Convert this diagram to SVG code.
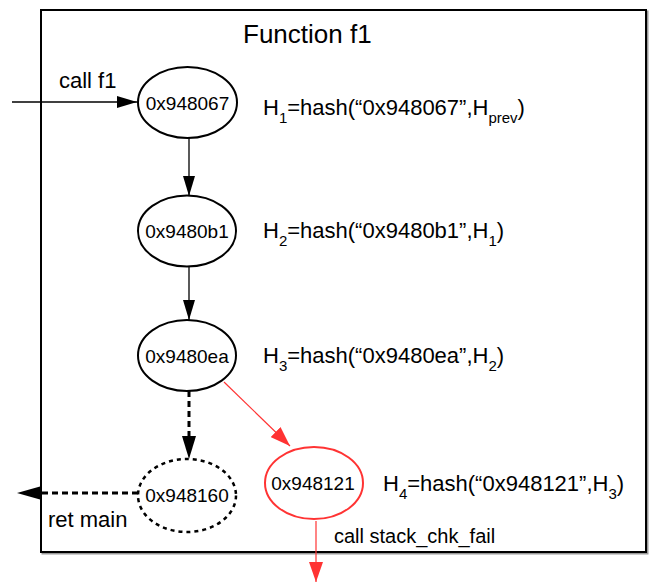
<svg xmlns="http://www.w3.org/2000/svg" width="651" height="582" viewBox="0 0 651 582">
  <defs>
    <style>
      text { font-family: "Liberation Sans", Arial, sans-serif; fill: #000; }
      .node { fill: #fff; stroke: #000; stroke-width: 2; }
      .node-dash { fill: #fff; stroke: #000; stroke-width: 2.5; stroke-dasharray: 4 4; }
      .node-red { fill: #fff; stroke: #f33; stroke-width: 2; }
      .addr { font-size: 19px; text-anchor: middle; }
      .hash { font-size: 22px; }
      .sub { font-size: 15px; }
      .lbl { font-size: 22px; }
      .lbl-small { font-size: 20px; }
      .edge { fill: none; stroke: #000; stroke-width: 1.3; }
      .edge-dash { fill: none; stroke: #000; stroke-width: 3; stroke-dasharray: 6 4; }
      .edge-red { fill: none; stroke: #f33; stroke-width: 1.2; }
    </style>
    <marker id="arrow" viewBox="0 0 20 12" refX="20" refY="6" markerWidth="20" markerHeight="12" markerUnits="userSpaceOnUse" orient="auto">
      <path d="M0,0 L20,6 L0,12 Z" fill="#000"/>
    </marker>
    <marker id="arrow-red" viewBox="0 0 20 14" refX="20" refY="7" markerWidth="20" markerHeight="14" markerUnits="userSpaceOnUse" orient="auto">
      <path d="M0,0 L20,7 L0,14 Z" fill="#f33"/>
    </marker>
  </defs>

  <rect width="651" height="582" fill="#fff"/>

  <!-- function frame with a slight drop shadow -->
  <g id="frame">
    <rect x="42.5" y="11.5" width="605" height="542" fill="none" stroke="#999" stroke-width="2"/>
    <rect x="41" y="10" width="605" height="542" fill="#fff" stroke="#000" stroke-width="2"/>
    <text x="243" y="43" font-size="26">Function f1</text>
  </g>

  <!-- connectors -->
  <g id="connectors">
    <line class="edge" x1="12" y1="102" x2="137" y2="102" marker-end="url(#arrow)"/>
    <text class="lbl" x="59" y="88">call f1</text>
    <line class="edge" x1="189" y1="138" x2="189" y2="196" marker-end="url(#arrow)"/>
    <line class="edge" x1="189" y1="266" x2="189" y2="320" marker-end="url(#arrow)"/>
    <line class="edge-dash" x1="189" y1="391" x2="189" y2="440"/>
    <path d="M182,436 L196,436 L189,459 Z" fill="#000"/>
    <line class="edge-dash" x1="138" y1="493" x2="36" y2="493"/>
    <path d="M40,486.5 L40,499.5 L17,493 Z" fill="#000"/>
    <text class="lbl" x="48" y="527">ret main</text>
    <line class="edge-red" x1="224" y1="382" x2="290" y2="446" marker-end="url(#arrow-red)"/>
    <line class="edge-red" x1="316" y1="521" x2="316" y2="582" marker-end="url(#arrow-red)"/>
    <text class="lbl-small" x="334" y="543">call stack_chk_fail</text>
  </g>

  <g id="n948067">
    <ellipse class="node" cx="187.5" cy="102.5" rx="49.5" ry="35.5"/>
    <text class="addr" x="187.5" y="110">0x948067</text>
    <text class="hash" x="263" y="115">H<tspan class="sub" dy="8">1</tspan><tspan dy="-8">=hash(“0x948067”,H</tspan><tspan class="sub" dy="8">prev</tspan><tspan dy="-8">)</tspan></text>
  </g>

  <g id="n9480b1">
    <ellipse class="node" cx="187" cy="231" rx="49" ry="35.5"/>
    <text class="addr" x="187" y="238">0x9480b1</text>
    <text class="hash" x="263" y="238">H<tspan class="sub" dy="8">2</tspan><tspan dy="-8">=hash(“0x9480b1”,H</tspan><tspan class="sub" dy="8">1</tspan><tspan dy="-8">)</tspan></text>
  </g>

  <g id="n9480ea">
    <ellipse class="node" cx="187" cy="355.5" rx="49" ry="35.5"/>
    <text class="addr" x="187" y="363">0x9480ea</text>
    <text class="hash" x="263" y="363">H<tspan class="sub" dy="8">3</tspan><tspan dy="-8">=hash(“0x9480ea”,H</tspan><tspan class="sub" dy="8">2</tspan><tspan dy="-8">)</tspan></text>
  </g>

  <g id="n948160">
    <ellipse class="node-dash" cx="187" cy="495.5" rx="49" ry="36.5"/>
    <text class="addr" x="187" y="502">0x948160</text>
  </g>

  <g id="n948121">
    <ellipse class="node-red" cx="314" cy="483" rx="49" ry="36"/>
    <text class="addr" x="313" y="490">0x948121</text>
    <text class="hash" x="383" y="491">H<tspan class="sub" dy="8">4</tspan><tspan dy="-8">=hash(“0x948121”,H</tspan><tspan class="sub" dy="8">3</tspan><tspan dy="-8">)</tspan></text>
  </g>
</svg>
